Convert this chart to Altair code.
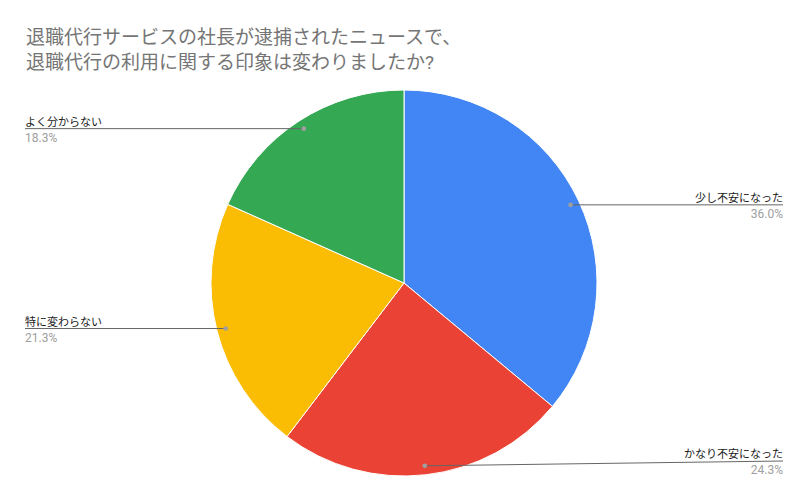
import altair as alt
import pandas as pd

categories = ["少し不安になった", "かなり不安になった", "特に変わらない", "よく分からない"]
values = [36.0, 24.3, 21.3, 18.3]
colors = ["#4285F4", "#EA4335", "#FBBC04", "#34A853"]
title_lines = ["退職代行サービスの社長が逮捕されたニュースで、", "退職代行の利用に関する印象は変わりましたか?"]

W, H = 793, 485
CX, CY, R = 396, 275, 193
R_DOT = 184
LEFT_X, RIGHT_X = 17, 775
FONT = "Roboto, 'Noto Sans CJK JP', sans-serif"

df = pd.DataFrame({"cat": categories, "value": values, "idx": list(range(len(categories)))})
base = alt.Chart(df)

pie = base.mark_arc(radius=R, stroke="white", strokeWidth=1).encode(
    theta=alt.Theta("value:Q", stack=True),
    order=alt.Order("idx:Q"),
    color=alt.Color("cat:N", scale=alt.Scale(domain=categories, range=colors), legend=None),
    x=alt.value(CX),
    y=alt.value(CY),
)

lead = base.transform_window(
    cum="sum(value)", sort=[alt.SortField("idx")], frame=[None, 0]
).transform_joinaggregate(
    total="sum(value)"
).transform_calculate(
    mid="2*PI*(datum.cum - datum.value/2)/datum.total",
    px=f"{CX} + {R_DOT}*sin(datum.mid)",
    py=f"{CY} - {R_DOT}*cos(datum.mid)",
    side="sin(datum.mid) > 0 ? 'right' : 'left'",
    ex=f"datum.side == 'right' ? {RIGHT_X} : {LEFT_X}",
    ey=f"min(datum.py, {H - 32})",
    pct="format(datum.value, '.1f') + '%'",
)

rules = lead.mark_rule(color="#666666", strokeWidth=1).encode(
    x=alt.X("px:Q", scale=None),
    y=alt.Y("py:Q", scale=None),
    x2="ex:Q",
    y2="ey:Q",
)
dots = lead.mark_circle(size=22, color="#9e9e9e", opacity=1).encode(
    x=alt.X("px:Q", scale=None),
    y=alt.Y("py:Q", scale=None),
)

layers = [pie, rules, dots]
for side, align in (("left", "left"), ("right", "right")):
    sub = lead.transform_filter(f"datum.side == '{side}'")
    layers.append(
        sub.mark_text(align=align, baseline="alphabetic", dy=-3, font=FONT, fontSize=11, color="#1a1a1a").encode(
            x=alt.X("ex:Q", scale=None), y=alt.Y("ey:Q", scale=None), text="cat:N"
        )
    )
    layers.append(
        sub.mark_text(align=align, baseline="alphabetic", dy=13, font=FONT, fontSize=12, color="#9e9e9e").encode(
            x=alt.X("ex:Q", scale=None), y=alt.Y("ey:Q", scale=None), text="pct:N"
        )
    )

title = alt.Chart(pd.DataFrame({"t": [0]})).mark_text(
    text=title_lines, align="left", baseline="alphabetic", lineHeight=25,
    font=FONT, fontSize=19, color="#757575"
).encode(x=alt.value(18), y=alt.value(35.5))
layers.append(title)

chart = alt.layer(*layers).properties(
    width=W, height=H, autosize="none", padding=0
).configure_view(stroke=None)

chart.save("out.html", embed_options={"renderer": "svg", "actions": False})
